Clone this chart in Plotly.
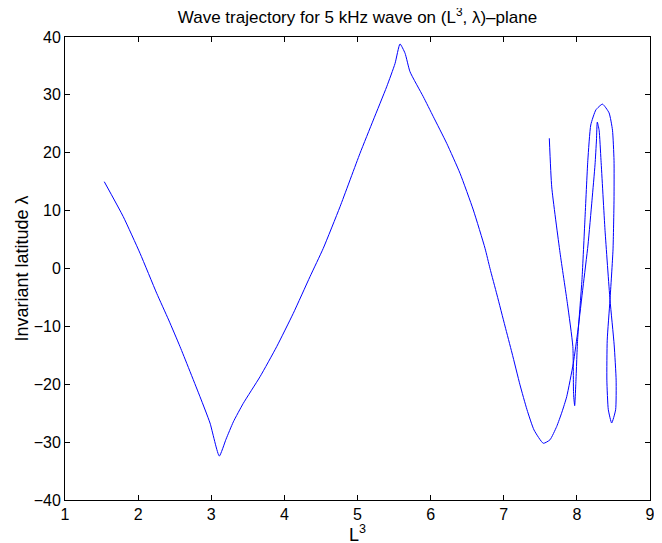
import plotly.graph_objects as go

# Trajectory points (L^3, invariant latitude in degrees)
L3 = [1.537, 1.797, 2.026, 2.254, 2.418, 2.573, 2.846, 2.983, 3.110,
      3.202, 3.302, 3.438, 3.667, 3.895, 4.122, 4.350, 4.532, 4.761, 5.034, 5.216,
      5.399, 5.513, 5.581, 5.650, 5.718, 5.900, 6.037, 6.220, 6.402, 6.584,
      6.744, 6.812, 6.908, 7.017, 7.113, 7.222, 7.318, 7.414, 7.541,
      7.632, 7.724, 7.796, 7.861, 7.951, 8.015, 8.084, 8.152, 8.207, 8.248,
      8.268, 8.279, 8.304, 8.330, 8.385, 8.453, 8.510,
      8.537, 8.530, 8.476, 8.430, 8.410, 8.415, 8.453, 8.494, 8.508, 8.508,
      8.487, 8.440, 8.350, 8.260, 8.190, 8.150, 8.110, 8.070, 8.010, 7.985,
      7.970, 7.955, 7.945, 7.870, 7.770, 7.656, 7.623]
LAT = [15.0, 8.95, 2.63, -4.28, -8.9, -13.5, -22.15, -26.7, -32.4,
       -29.5, -26.5, -23.3, -18.7, -13.5, -7.74, -1.42, 3.49, 10.67, 19.9, 25.65,
       31.4, 35.4, 38.8, 37.2, 34.0, 29.68, 26.23, 21.63, 16.45, 10.11,
       3.49, 0.0, -4.58, -9.94, -14.6, -20.1, -24.4, -27.9, -30.2,
       -29.6, -27.3, -24.8, -22.15, -16.4, -10.6, -3.2, 4.06, 11.8, 17.9,
       22.2, 25.3, 23.9, 18.7, 6.6, -5.4, -13.2,
       -19.3, -24.4, -26.7, -24.4, -19.3, -12.4, -5.4, 3.2, 11.8, 18.7,
       23.9, 26.9, 28.4, 27.4, 24.8, 18.7, 8.4, -1.9, -12.3, -20.1,
       -23.7, -21.8, -13.5, -6.0, 2.7, 14.1, 22.5]

X_TICKS = [1, 2, 3, 4, 5, 6, 7, 8, 9]
Y_TICKS = [-40, -30, -20, -10, 0, 10, 20, 30, 40]

FONT = "Liberation Sans, Arial, Helvetica, sans-serif"

# the page body has an 8px default margin, so the figure is 8px smaller
W, H = 654, 535

fig = go.Figure()
fig.add_trace(go.Scatter(
    x=L3, y=LAT, mode="lines",
    line=dict(color="rgb(0,0,255)", width=1, shape="spline", smoothing=0.5),
    showlegend=False, hoverinfo="skip"))

axis_common = dict(
    showgrid=False, zeroline=False, showline=True, linecolor="black",
    linewidth=1, mirror="ticks", ticks="inside", ticklen=5, tickcolor="black",
    automargin=False,
    tickfont=dict(family=FONT, size=16, color="black"))

fig.update_xaxes(range=[1, 9], tickvals=X_TICKS, **axis_common)
fig.update_yaxes(range=[-40, 40], tickvals=Y_TICKS, **axis_common)

fig.add_annotation(text="L<sup>3</sup>", x=0.5, y=0, xref="paper", yref="paper",
                   xanchor="center", yanchor="top", yshift=-20, showarrow=False,
                   font=dict(family=FONT, size=18, color="black"))
fig.add_annotation(text="Invariant latitude λ", x=0, y=0.5, xref="paper", yref="paper",
                   xanchor="center", yanchor="middle", xshift=-44, textangle=-90,
                   showarrow=False, font=dict(family=FONT, size=18, color="black"))

fig.update_layout(
    width=W, height=H,
    margin=dict(l=57, r=12, t=29, b=43, autoexpand=False),
    paper_bgcolor="white", plot_bgcolor="white",
    title=dict(text="Wave trajectory for 5 kHz wave on (L<sup>3</sup>, λ)–plane",
               font=dict(family=FONT, size=17, color="black"),
               x=0.5, xref="paper", xanchor="center",
               y=1 - 9 / H, yref="container", yanchor="middle"),
)

fig.write_html("out.html")
